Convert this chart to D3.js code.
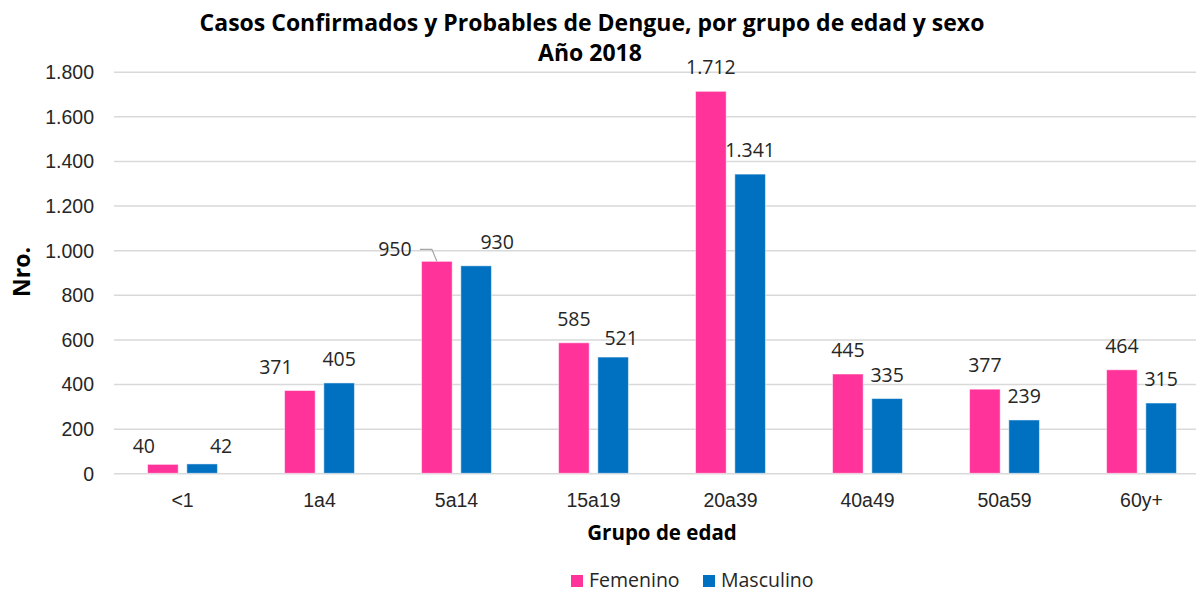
<!DOCTYPE html>
<html>
<head>
<meta charset="utf-8">
<script src="https://cdn.jsdelivr.net/npm/d3@7"></script>
<style>
  body { margin: 0; background: #fff; }
  svg { display: block; font-family: 'Open Sans', sans-serif; overflow: hidden; }
</style>
</head>
<body>
<svg id="chart" width="1196" height="592"></svg>
<script>
// data
let grupos = ['<1', '1a4', '5a14', '15a19', '20a39', '40a49', '50a59', '60y+'];
let series = ['Femenino', 'Masculino'];
let femenino = [40, 371, 950, 585, 1712, 445, 377, 464];
let masculino = [42, 405, 930, 521, 1341, 335, 239, 315];
let yTicks = [0, 200, 400, 600, 800, 1000, 1200, 1400, 1600, 1800];

let colors = { Femenino: '#FF3399', Masculino: '#0070C0' };

// labels that were dragged by hand in the original
let labelNudge = {
  'Femenino|<1': [-19, 6],
  'Masculino|<1': [19, 6],
  'Femenino|1a4': [-24, 0],
  'Femenino|5a14': [-42, 12],
  'Masculino|5a14': [21, 0],
  'Masculino|15a19': [8, 5]
};

let fmt = d3.formatLocale({ decimal: ',', thousands: '.', grouping: [3], currency: ['$', ''] }).format(',');

let svg = d3.select('#chart');
let plotL = 114, plotR = 1210, plotT = 71.7, plotB = 473.3;

let x0 = d3.scaleBand()
  .domain(grupos)
  .range([plotL, plotR])
  .paddingInner(0.49)
  .paddingOuter(0.245);

let x1 = d3.scaleBand()
  .domain(series)
  .range([0, x0.bandwidth()])
  .paddingInner(0.22);

let y = d3.scaleLinear()
  .domain([0, 1800])
  .range([plotB, plotT]);

// gridlines + y labels
let yAxis = svg.append('g')
  .attr('transform', `translate(${plotL},0)`)
  .call(d3.axisLeft(y).tickValues(yTicks).tickFormat(fmt)
    .tickSizeInner(-(plotR - plotL)).tickSizeOuter(0).tickPadding(20));
yAxis.select('.domain').remove();
yAxis.selectAll('line').attr('stroke', '#d9d9d9').attr('stroke-width', 1.5);
yAxis.selectAll('text').attr('fill', '#262626').style('font-size', '19.5px').attr('dy', '0.35em');

// x labels
let xAxis = svg.append('g')
  .attr('transform', `translate(0,${plotB})`)
  .call(d3.axisBottom(x0).tickSize(0).tickPadding(20));
xAxis.select('.domain').remove();
xAxis.selectAll('text').attr('fill', '#262626').style('font-size', '19.5px').attr('dy', '0.71em');

let rows = grupos.map((g, i) => ({ grupo: g, Femenino: femenino[i], Masculino: masculino[i] }));

let groups = svg.append('g').selectAll('g')
  .data(rows)
  .enter()
  .append('g')
  .attr('transform', d => `translate(${x0(d.grupo)},0)`);

let cells = groups.selectAll('g')
  .data(d => series.map(s => ({ grupo: d.grupo, serie: s, value: d[s] })))
  .enter()
  .append('g');

cells.append('rect')
  .attr('x', d => x1(d.serie))
  .attr('y', d => y(d.value))
  .attr('width', x1.bandwidth())
  .attr('height', d => y(0) - y(d.value))
  .style('fill', d => colors[d.serie])
  .style('stroke', '#fff')
  .style('stroke-opacity', 0.5)
  .style('stroke-width', '1px');

cells.append('text')
  .attr('x', d => {
    let n = labelNudge[d.serie + '|' + d.grupo] || [0, 0];
    return x1(d.serie) + x1.bandwidth() / 2 + n[0];
  })
  .attr('y', d => {
    let n = labelNudge[d.serie + '|' + d.grupo] || [0, 0];
    return y(d.value) - 17 + n[1];
  })
  .attr('text-anchor', 'middle')
  .style('font-size', '19.5px')
  .style('fill', '#262626')
  .text(d => fmt(d.value));

// leader line for the moved 950 label
let fx = x0('5a14') + x1('Femenino') + x1.bandwidth() / 2;
let fy = y(950);
svg.append('path')
  .attr('d', `M${fx - 17},${fy - 12}L${fx - 5},${fy - 12}L${fx},${fy}`)
  .style('fill', 'none')
  .style('stroke', '#a6a6a6')
  .style('stroke-width', '1.2px');

// titles
svg.append('text')
  .attr('x', 592).attr('y', 31)
  .attr('text-anchor', 'middle')
  .style('font-size', '23px').style('font-weight', 'bold')
  .text('Casos Confirmados y Probables de Dengue, por grupo de edad y sexo');
svg.append('text')
  .attr('x', 590).attr('y', 61)
  .attr('text-anchor', 'middle')
  .style('font-size', '23px').style('font-weight', 'bold')
  .text('Año 2018');

svg.append('text')
  .attr('transform', 'translate(30,272) rotate(-90)')
  .attr('text-anchor', 'middle')
  .style('font-size', '23px').style('font-weight', 'bold')
  .text('Nro.');

svg.append('text')
  .attr('x', (plotL + plotR) / 2).attr('y', 540)
  .attr('text-anchor', 'middle')
  .style('font-size', '20.5px').style('font-weight', 'bold')
  .text('Grupo de edad');

// legend (nudged up a little so it is not clipped)
let legX = [571, 703];
let leg = svg.append('g').selectAll('g')
  .data(series)
  .enter()
  .append('g')
  .attr('transform', (d, i) => `translate(${legX[i]},575)`);
leg.append('rect').attr('width', 12).attr('height', 12).style('fill', d => colors[d]);
leg.append('text').attr('x', 18).attr('y', 11.5)
  .style('font-size', '19.5px').style('fill', '#262626')
  .text(d => d);
</script>
</body>
</html>
